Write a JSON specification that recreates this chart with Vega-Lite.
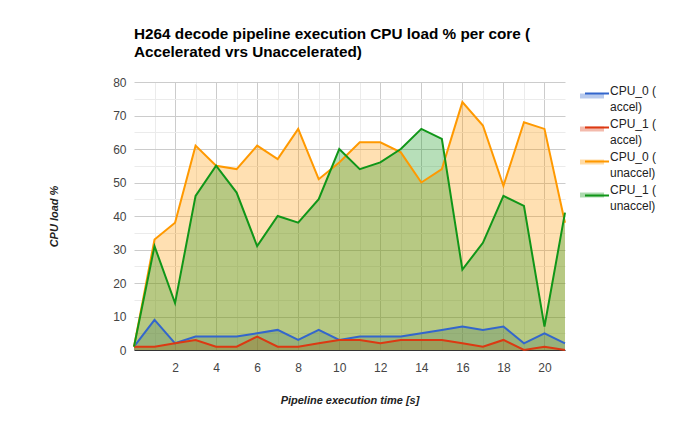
{
  "$schema": "https://vega.github.io/schema/vega-lite/v6.json",
  "width": 431,
  "height": 268,
  "autosize": "none",
  "padding": {"left": 134, "top": 82, "right": 135, "bottom": 83},
  "background": "white",
  "title": {
    "text": ["H264 decode pipeline execution CPU load % per core (", "Accelerated vrs Unaccelerated)"],
    "anchor": "start",
    "frame": "group",
    "font": "Liberation Sans",
    "fontSize": 15.3,
    "fontWeight": "bold",
    "color": "#000000",
    "lineHeight": 18,
    "offset": 16
  },
  "config": {
    "view": {"stroke": null},
    "font": "Liberation Sans",
    "style": {"guide-label": {"lineHeight": 16}}
  },
  "data": {
    "values": [
      {"t":0,"s":"CPU_0 ( accel)","v":1},{"t":1,"s":"CPU_0 ( accel)","v":9},{"t":2,"s":"CPU_0 ( accel)","v":2},{"t":3,"s":"CPU_0 ( accel)","v":4},{"t":4,"s":"CPU_0 ( accel)","v":4},{"t":5,"s":"CPU_0 ( accel)","v":4},{"t":6,"s":"CPU_0 ( accel)","v":5},{"t":7,"s":"CPU_0 ( accel)","v":6},{"t":8,"s":"CPU_0 ( accel)","v":3},{"t":9,"s":"CPU_0 ( accel)","v":6},{"t":10,"s":"CPU_0 ( accel)","v":3},{"t":11,"s":"CPU_0 ( accel)","v":4},{"t":12,"s":"CPU_0 ( accel)","v":4},{"t":13,"s":"CPU_0 ( accel)","v":4},{"t":14,"s":"CPU_0 ( accel)","v":5},{"t":15,"s":"CPU_0 ( accel)","v":6},{"t":16,"s":"CPU_0 ( accel)","v":7},{"t":17,"s":"CPU_0 ( accel)","v":6},{"t":18,"s":"CPU_0 ( accel)","v":7},{"t":19,"s":"CPU_0 ( accel)","v":2},{"t":20,"s":"CPU_0 ( accel)","v":5},{"t":21,"s":"CPU_0 ( accel)","v":2},
      {"t":0,"s":"CPU_1 ( accel)","v":1},{"t":1,"s":"CPU_1 ( accel)","v":1},{"t":2,"s":"CPU_1 ( accel)","v":2},{"t":3,"s":"CPU_1 ( accel)","v":3},{"t":4,"s":"CPU_1 ( accel)","v":1},{"t":5,"s":"CPU_1 ( accel)","v":1},{"t":6,"s":"CPU_1 ( accel)","v":4},{"t":7,"s":"CPU_1 ( accel)","v":1},{"t":8,"s":"CPU_1 ( accel)","v":1},{"t":9,"s":"CPU_1 ( accel)","v":2},{"t":10,"s":"CPU_1 ( accel)","v":3},{"t":11,"s":"CPU_1 ( accel)","v":3},{"t":12,"s":"CPU_1 ( accel)","v":2},{"t":13,"s":"CPU_1 ( accel)","v":3},{"t":14,"s":"CPU_1 ( accel)","v":3},{"t":15,"s":"CPU_1 ( accel)","v":3},{"t":16,"s":"CPU_1 ( accel)","v":2},{"t":17,"s":"CPU_1 ( accel)","v":1},{"t":18,"s":"CPU_1 ( accel)","v":3},{"t":19,"s":"CPU_1 ( accel)","v":0},{"t":20,"s":"CPU_1 ( accel)","v":1},{"t":21,"s":"CPU_1 ( accel)","v":0},
      {"t":0,"s":"CPU_0 ( unaccel)","v":1},{"t":1,"s":"CPU_0 ( unaccel)","v":33},{"t":2,"s":"CPU_0 ( unaccel)","v":38},{"t":3,"s":"CPU_0 ( unaccel)","v":61},{"t":4,"s":"CPU_0 ( unaccel)","v":55},{"t":5,"s":"CPU_0 ( unaccel)","v":54},{"t":6,"s":"CPU_0 ( unaccel)","v":61},{"t":7,"s":"CPU_0 ( unaccel)","v":57},{"t":8,"s":"CPU_0 ( unaccel)","v":66},{"t":9,"s":"CPU_0 ( unaccel)","v":51},{"t":10,"s":"CPU_0 ( unaccel)","v":56},{"t":11,"s":"CPU_0 ( unaccel)","v":62},{"t":12,"s":"CPU_0 ( unaccel)","v":62},{"t":13,"s":"CPU_0 ( unaccel)","v":59},{"t":14,"s":"CPU_0 ( unaccel)","v":50},{"t":15,"s":"CPU_0 ( unaccel)","v":54},{"t":16,"s":"CPU_0 ( unaccel)","v":74},{"t":17,"s":"CPU_0 ( unaccel)","v":67},{"t":18,"s":"CPU_0 ( unaccel)","v":49},{"t":19,"s":"CPU_0 ( unaccel)","v":68},{"t":20,"s":"CPU_0 ( unaccel)","v":66},{"t":21,"s":"CPU_0 ( unaccel)","v":38},
      {"t":0,"s":"CPU_1 ( unaccel)","v":1},{"t":1,"s":"CPU_1 ( unaccel)","v":31},{"t":2,"s":"CPU_1 ( unaccel)","v":14},{"t":3,"s":"CPU_1 ( unaccel)","v":46},{"t":4,"s":"CPU_1 ( unaccel)","v":55},{"t":5,"s":"CPU_1 ( unaccel)","v":47},{"t":6,"s":"CPU_1 ( unaccel)","v":31},{"t":7,"s":"CPU_1 ( unaccel)","v":40},{"t":8,"s":"CPU_1 ( unaccel)","v":38},{"t":9,"s":"CPU_1 ( unaccel)","v":45},{"t":10,"s":"CPU_1 ( unaccel)","v":60},{"t":11,"s":"CPU_1 ( unaccel)","v":54},{"t":12,"s":"CPU_1 ( unaccel)","v":56},{"t":13,"s":"CPU_1 ( unaccel)","v":60},{"t":14,"s":"CPU_1 ( unaccel)","v":66},{"t":15,"s":"CPU_1 ( unaccel)","v":63},{"t":16,"s":"CPU_1 ( unaccel)","v":24},{"t":17,"s":"CPU_1 ( unaccel)","v":32},{"t":18,"s":"CPU_1 ( unaccel)","v":46},{"t":19,"s":"CPU_1 ( unaccel)","v":43},{"t":20,"s":"CPU_1 ( unaccel)","v":7},{"t":21,"s":"CPU_1 ( unaccel)","v":41}
    ]
  },
  "encoding": {
    "x": {
      "field": "t",
      "type": "quantitative",
      "scale": {"domain": [0, 21], "nice": false, "zero": false},
      "axis": {
        "title": "Pipeline execution time [s]",
        "values": [1,2,3,4,5,6,7,8,9,10,11,12,13,14,15,16,17,18,19,20],
        "labelExpr": "datum.value % 2 == 0 ? datum.label : ''",
        "gridColor": {"condition": {"test": "datum.value % 2 == 0", "value": "#cccccc"}, "value": "#ebebeb"},
        "gridOpacity": 1,
        "ticks": false,
        "domain": true,
        "domainColor": "#333333",
        "domainWidth": 1,
        "labelFont": "Liberation Sans",
        "labelFontSize": 12,
        "labelColor": "#444444",
        "labelPadding": 12,
        "titleFont": "Liberation Sans",
        "titleFontSize": 11,
        "titleFontWeight": "bold",
        "titleFontStyle": "italic",
        "titleColor": "#222222",
        "titlePadding": 21
      }
    },
    "y": {
      "field": "v",
      "type": "quantitative",
      "stack": null,
      "scale": {"domain": [0, 80], "nice": false},
      "axis": {
        "title": "CPU load %",
        "values": [0,5,10,15,20,25,30,35,40,45,50,55,60,65,70,75,80],
        "labelExpr": "datum.value % 10 == 0 ? datum.label : ''",
        "gridColor": {"condition": {"test": "datum.value % 10 == 0", "value": "#cccccc"}, "value": "#ebebeb"},
        "gridOpacity": 1,
        "ticks": false,
        "domain": false,
        "labelFont": "Liberation Sans",
        "labelFontSize": 12,
        "labelColor": "#444444",
        "labelPadding": 8,
        "titleFont": "Liberation Sans",
        "titleFontSize": 11,
        "titleFontWeight": "bold",
        "titleFontStyle": "italic",
        "titleColor": "#222222",
        "titlePadding": 53
      }
    }
  },
  "layer": [
    {
      "mark": {"type": "area", "fillOpacity": 0.3, "interpolate": "linear"},
      "encoding": {
        "fill": {
          "field": "s",
          "type": "nominal",
          "scale": {
            "domain": ["CPU_0 ( accel)", "CPU_1 ( accel)", "CPU_0 ( unaccel)", "CPU_1 ( unaccel)"],
            "range": ["#3366cc", "#dc3912", "#ff9900", "#109618"]
          },
          "legend": {
            "title": null,
            "orient": "none",
            "legendX": 443,
            "legendY": 0,
            "padding": 3,
            "labelExpr": "[slice(datum.label, 0, 7), slice(datum.label, 8)]",
            "labelFont": "Liberation Sans",
            "labelFontSize": 12,
            "labelColor": "#222222",
            "labelBaseline": "middle",
            "labelOffset": 18,
            "rowPadding": 5,
            "symbolType": "M-1,0.42H3V1.25H-1Z",
            "symbolSize": 144,
            "symbolOpacity": 0.35,
            "symbolStrokeWidth": 0,
            "offset": 0
          }
        }
      }
    },
    {
      "mark": {"type": "line", "strokeWidth": 2, "interpolate": "linear"},
      "encoding": {
        "stroke": {
          "field": "s",
          "type": "nominal",
          "scale": {
            "domain": ["CPU_0 ( accel)", "CPU_1 ( accel)", "CPU_0 ( unaccel)", "CPU_1 ( unaccel)"],
            "range": ["#3366cc", "#dc3912", "#ff9900", "#109618"]
          },
          "legend": {
            "title": null,
            "orient": "right",
            "offset": 12,
            "padding": 3,
            "labelExpr": "[' ', ' ']",
            "labelFont": "Liberation Sans",
            "labelFontSize": 12,
            "labelBaseline": "middle",
            "labelOffset": 18,
            "rowPadding": 5,
            "symbolType": "M-1,0.25H3",
            "symbolSize": 144,
            "symbolStrokeWidth": 2,
            "symbolOpacity": 1
          }
        }
      }
    }
  ]
}
